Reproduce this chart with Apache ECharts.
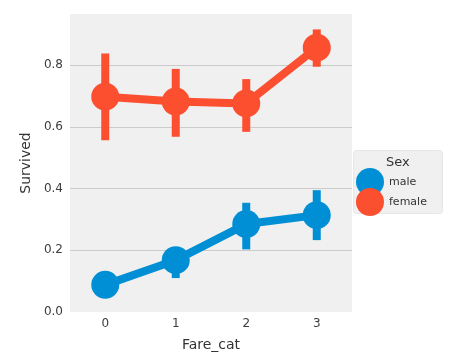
<!DOCTYPE html>
<html><head><meta charset="utf-8">
<script src="https://cdn.jsdelivr.net/npm/echarts@6/dist/echarts.min.js"></script>
<style>html,body{margin:0;padding:0;background:#fff}#c{width:465px;height:359px}</style>
</head><body><div id="c"></div>
<script>
var categories = ['0', '1', '2', '3'];
var maleMean = [0.088, 0.168, 0.285, 0.314];
var maleLow = [0.060, 0.110, 0.203, 0.233];
var maleHigh = [0.115, 0.210, 0.354, 0.395];
var femaleMean = [0.698, 0.682, 0.676, 0.857];
var femaleLow = [0.557, 0.568, 0.584, 0.795];
var femaleHigh = [0.838, 0.788, 0.755, 0.916];
var yTicks = [0, 0.2, 0.4, 0.6, 0.8];

var BLUE = '#008fd5', RED = '#fc4f30';
var font = 'DejaVu Sans';

function errSeries(name, low, high, color) {
  return {
    type: 'custom', name: name + '_err', silent: true, z: 3,
    data: categories.map(function (c, i) { return [i, low[i], high[i]]; }),
    renderItem: function (params, api) {
      var p1 = api.coord([api.value(0), api.value(1)]);
      var p2 = api.coord([api.value(0), api.value(2)]);
      return { type: 'line', shape: { x1: p1[0], y1: p1[1], x2: p2[0], y2: p2[1] },
               style: { stroke: color, lineWidth: 8 } };
    }
  };
}

var chart = echarts.init(document.getElementById('c'));
chart.setOption({
  animation: false,
  backgroundColor: '#ffffff',
  textStyle: { fontFamily: font },
  grid: { left: 70, right: 113, top: 14, bottom: 47, show: true, backgroundColor: '#f0f0f0', borderWidth: 0 },
  xAxis: {
    type: 'category', data: categories, boundaryGap: true,
    axisLine: { show: false }, axisTick: { show: false },
    axisLabel: { color: '#3c3c3c', fontSize: 12, margin: 6, fontFamily: font },
    name: 'Fare_cat', nameLocation: 'middle', nameGap: 26,
    nameTextStyle: { color: '#333', fontSize: 14, fontFamily: font }
  },
  yAxis: {
    type: 'value', min: 0, max: 0.966, interval: 0.2,
    axisLine: { show: false }, axisTick: { show: false },
    splitLine: { showMinLine: false, showMaxLine: false, lineStyle: { color: '#cbcbcb', width: 1 } },
    axisLabel: { color: '#3c3c3c', fontSize: 12, margin: 7, fontFamily: font, showMaxLabel: false,
      formatter: function (v) { return yTicks.indexOf(Math.round(v * 10) / 10) >= 0 ? v.toFixed(1) : ''; } },
    name: 'Survived', nameLocation: 'middle', nameGap: 37,
    nameTextStyle: { color: '#333', fontSize: 14, fontFamily: font }
  },
  legend: {
    orient: 'vertical', left: 356, top: 168, icon: 'circle',
    itemWidth: 28, itemHeight: 28, itemGap: -8,
    data: ['male', 'female'],
    textStyle: { color: '#333', fontSize: 11, fontFamily: font, padding: [0, 0, 0, 0] },
    padding: 0
  },
  graphic: [
    { type: 'rect', left: 353, top: 150, z: -1, shape: { width: 89, height: 63, r: 3 },
      style: { fill: '#f0f0f0', stroke: '#e6e6e6', lineWidth: 1 } },
    { type: 'text', left: 386, top: 156, style: { text: 'Sex', fill: '#333', font: '13px DejaVu Sans' } }
  ],
  series: [
    errSeries('male', maleLow, maleHigh, BLUE),
    errSeries('female', femaleLow, femaleHigh, RED),
    { type: 'line', name: 'male', data: maleMean, color: BLUE, z: 4,
      symbol: 'circle', symbolSize: 28, showSymbol: true,
      lineStyle: { width: 8, color: BLUE }, itemStyle: { color: BLUE } },
    { type: 'line', name: 'female', data: femaleMean, color: RED, z: 4,
      symbol: 'circle', symbolSize: 28, showSymbol: true,
      lineStyle: { width: 8, color: RED }, itemStyle: { color: RED } }
  ]
});
</script></body></html>
